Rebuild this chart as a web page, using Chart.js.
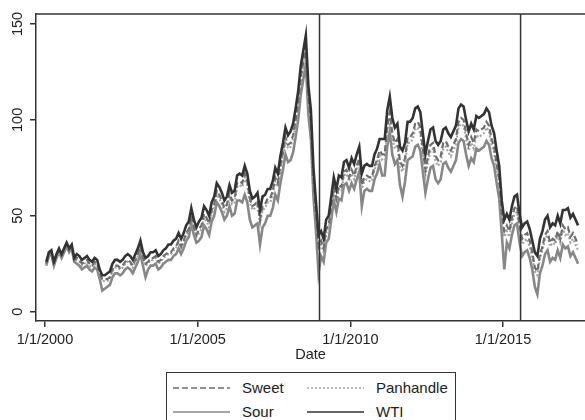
<!DOCTYPE html>
<html>
<head>
<meta charset="utf-8">
<script src="https://cdn.jsdelivr.net/npm/chart.js@4.4.1/dist/chart.umd.min.js"></script>
<style>
  html, body { margin: 0; padding: 0; background: #fff; }
  body { width: 585px; height: 420px; position: relative; overflow: hidden; font-family: "Liberation Sans", Arial, sans-serif; }
  #wrap { position: absolute; left: 0; top: 0; width: 585px; height: 368px; }
  #legend { position: absolute; left: 166px; top: 372px; width: 290px; height: 70px; border: 1px solid #333; box-sizing: border-box; }
  .item { position: absolute; height: 18px; width: 140px; }
  .item svg { position: absolute; left: 0; top: 0; }
  .item span { position: absolute; top: 0; font-size: 15px; line-height: 18px; color: #222; white-space: nowrap; }
</style>
</head>
<body>
<div id="wrap"><canvas id="chart"></canvas></div>
<div id="legend"></div>
<script>
// monthly prices, Jan 2000 - Jun 2017 ($/bbl)
const startYear = 2000;

const wti = [
  26, 31, 32, 26, 30, 33, 30, 33, 36, 33, 35, 28, // 2000
  30, 29, 27, 28, 29, 27, 26, 28, 27, 22, 19, 19, // 2001
  20, 21, 25, 27, 27, 26, 27, 29, 30, 29, 27, 30, // 2002
  33, 37, 31, 28, 29, 31, 31, 32, 29, 30, 32, 33, // 2003
  35, 35, 37, 38, 41, 38, 41, 45, 47, 54, 48, 44, // 2004
  47, 49, 55, 53, 50, 57, 60, 67, 65, 62, 58, 60, // 2005
  66, 62, 63, 71, 72, 71, 76, 72, 63, 59, 60, 62, // 2006
  53, 60, 61, 64, 64, 68, 75, 72, 81, 88, 96, 92, // 2007
  94, 98, 106, 115, 128, 136, 144, 118, 105, 75, 57, 40, // 2008
  42, 38, 48, 50, 60, 70, 64, 71, 70, 78, 79, 75, // 2009
  80, 77, 82, 86, 72, 76, 77, 76, 76, 82, 85, 90, // 2010
  90, 90, 105, 112, 101, 96, 98, 86, 84, 88, 99, 99, // 2011
  101, 106, 107, 104, 93, 82, 89, 95, 96, 89, 87, 89, // 2012
  95, 96, 93, 91, 94, 97, 106, 108, 107, 100, 94, 98, // 2013
  95, 102, 101, 102, 103, 106, 104, 97, 93, 84, 76, 58, // 2014
  48, 51, 48, 55, 60, 61, 51, 44, 46, 47, 43, 37, // 2015
  31, 29, 38, 42, 48, 50, 44, 46, 45, 50, 46, 53, // 2016
  53, 54, 49, 51, 48, 45 // 2017
];

const sweet = [
  25, 30, 31, 25, 29, 32, 29, 32, 35, 32, 34, 27,
  28, 27, 25, 26, 27, 25, 24, 26, 25, 20, 17, 17,
  17, 18, 22, 24, 24, 23, 24, 26, 27, 26, 24, 27,
  30, 34, 28, 25, 26, 28, 28, 29, 26, 27, 29, 30,
  31, 31, 33, 34, 37, 34, 37, 41, 43, 50, 44, 40,
  43, 45, 51, 49, 46, 53, 56, 63, 61, 58, 54, 56,
  62, 58, 59, 67, 68, 67, 72, 68, 59, 55, 56, 58,
  48, 55, 56, 59, 59, 63, 70, 67, 76, 83, 91, 87,
  88, 92, 100, 109, 122, 130, 138, 112, 99, 69, 51, 34,
  37, 33, 43, 45, 55, 65, 59, 66, 65, 73, 74, 70,
  74, 71, 76, 80, 66, 70, 71, 70, 70, 76, 79, 84,
  82, 82, 97, 104, 93, 88, 90, 78, 76, 80, 91, 91,
  93, 98, 99, 96, 85, 74, 81, 87, 88, 81, 79, 81,
  88, 89, 86, 84, 87, 90, 99, 101, 100, 93, 87, 91,
  88, 95, 94, 95, 96, 99, 97, 90, 86, 77, 69, 51,
  42, 45, 42, 49, 54, 55, 45, 38, 40, 41, 37, 31,
  23, 21, 30, 34, 40, 42, 36, 38, 37, 42, 38, 45,
  43, 44, 39, 41, 38, 35
];

const panhandle = [
  24.5, 29.5, 30.5, 24.5, 28.5, 31.5, 28.5, 31.5, 34.5, 31.5, 33.5, 26.5,
  27, 26, 24, 25, 26, 24, 23, 25, 24, 19, 16, 16,
  16, 17, 21, 23, 23, 22, 23, 25, 26, 25, 23, 26,
  29, 33, 27, 24, 25, 27, 27, 28, 25, 26, 28, 29,
  30, 30, 32, 33, 36, 33, 36, 40, 42, 49, 43, 39,
  41, 43, 49, 47, 44, 51, 54, 61, 59, 56, 52, 54,
  60, 56, 57, 65, 66, 65, 70, 66, 57, 53, 54, 56,
  46, 53, 54, 57, 57, 61, 68, 65, 74, 81, 89, 85,
  86, 90, 98, 107, 120, 128, 136, 110, 97, 67, 49, 32,
  35, 31, 41, 43, 53, 63, 57, 64, 63, 71, 72, 68,
  72, 69, 74, 78, 64, 68, 69, 68, 68, 74, 77, 82,
  79, 79, 94, 101, 90, 85, 87, 75, 73, 77, 88, 88,
  90, 95, 96, 93, 82, 71, 78, 84, 85, 78, 76, 78,
  85, 86, 83, 81, 84, 87, 96, 98, 97, 90, 84, 88,
  85, 92, 91, 92, 93, 96, 94, 87, 83, 74, 66, 48,
  39, 42, 39, 46, 51, 52, 42, 35, 37, 38, 34, 28,
  21, 19, 28, 32, 38, 40, 34, 36, 35, 40, 36, 43,
  40, 41, 36, 38, 35, 32
];

const sour = [
  24, 29, 30, 24, 28, 31, 28, 31, 34, 31, 33, 26,
  25, 24, 22, 23, 24, 22, 21, 23, 22, 17, 11, 12,
  13, 14, 18, 20, 20, 19, 20, 22, 23, 22, 20, 23,
  26, 30, 24, 18, 22, 24, 24, 25, 22, 23, 25, 26,
  27, 27, 29, 30, 33, 30, 33, 37, 39, 46, 40, 36,
  37, 39, 45, 43, 40, 47, 50, 57, 55, 52, 48, 50,
  55, 50, 51, 58, 58, 57, 61, 57, 48, 44, 45, 46,
  35, 44, 46, 50, 50, 54, 61, 58, 67, 74, 82, 78,
  79, 83, 91, 100, 113, 121, 129, 103, 90, 60, 42, 20,
  29, 26, 36, 38, 48, 58, 52, 59, 58, 66, 67, 63,
  67, 64, 69, 73, 55, 63, 64, 63, 63, 69, 72, 77,
  71, 71, 86, 94, 82, 77, 79, 66, 60, 68, 79, 80,
  81, 86, 87, 84, 73, 62, 69, 75, 76, 69, 67, 69,
  77, 78, 75, 73, 76, 79, 88, 90, 89, 82, 76, 80,
  78, 85, 84, 85, 86, 89, 87, 80, 76, 67, 59, 41,
  22, 36, 33, 40, 45, 46, 36, 29, 31, 32, 28, 22,
  13, 9, 20, 24, 30, 32, 26, 28, 27, 32, 28, 35,
  33, 34, 29, 31, 28, 25
];

const xTicks = [2000, 2005, 2010, 2015];
const yTicks = [0, 50, 100, 150];
const eventLines = [2008.99, 2015.575];

// legend order (row by row)
const legendNames = ["Sweet", "Panhandle", "Sour", "WTI"];

const styles = {
  Sweet: { color: "#6e6e6e", dash: [6, 3], width: 2.2, order: 2 },
  Panhandle: { color: "#a5a5a5", dash: [2, 2], width: 2.2, order: 3 },
  Sour: { color: "#878787", dash: [], width: 2.6, order: 4 },
  WTI: { color: "#333333", dash: [], width: 2.6, order: 1 },
};

const values = { Sweet: sweet, Panhandle: panhandle, Sour: sour, WTI: wti };

function toPoints(arr) {
  return arr.map((v, i) => ({ x: startYear + (i + 0.5) / 12, y: v }));
}

const datasets = legendNames.map((name) => ({
  label: name,
  data: toPoints(values[name]),
  borderColor: styles[name].color,
  borderDash: styles[name].dash,
  borderWidth: styles[name].width,
  order: styles[name].order,
  pointRadius: 0,
  tension: 0,
  fill: false,
}));

// top border and the two vertical markers
const framePlugin = {
  id: "frame",
  afterDatasetsDraw(chart) {
    const { ctx, chartArea: a, scales } = chart;
    ctx.save();
    ctx.strokeStyle = "#333";
    ctx.lineWidth = 1.5;
    ctx.beginPath();
    ctx.moveTo(a.left, a.top);
    ctx.lineTo(a.right + 2, a.top);
    eventLines.forEach((d) => {
      const px = scales.x.getPixelForValue(d);
      ctx.moveTo(px, a.top);
      ctx.lineTo(px, a.bottom);
    });
    ctx.stroke();
    ctx.restore();
  },
};

Chart.defaults.font.family = "'Liberation Sans', Arial, sans-serif";
Chart.defaults.color = "#222";

new Chart(document.getElementById("chart"), {
  type: "line",
  data: { datasets: datasets },
  options: {
    responsive: true,
    maintainAspectRatio: false,
    animation: false,
    layout: { padding: { top: 14, right: 0, left: 0, bottom: 0 } },
    plugins: {
      legend: { display: false },
      tooltip: { enabled: false },
    },
    scales: {
      x: {
        type: "linear",
        min: 1999.705,
        max: 2017.685,
        afterBuildTicks: (axis) => {
          axis.ticks = xTicks.map((v) => ({ value: v }));
        },
        afterFit: (axis) => {
          axis.height = 47;
        },
        border: { color: "#333", width: 1.5 },
        grid: { drawOnChartArea: false, drawTicks: true, tickLength: 6, color: "#333", lineWidth: 1.5 },
        ticks: {
          font: { size: 14.5 },
          padding: 4,
          maxRotation: 0,
          callback: (v) => "1/1/" + v,
        },
        title: {
          display: true,
          text: "Date",
          font: { size: 14.5 },
          padding: { top: 0, bottom: 4 },
        },
      },
      y: {
        min: -4.85,
        max: 155.2,
        afterBuildTicks: (axis) => {
          axis.ticks = yTicks.map((v) => ({ value: v }));
        },
        afterFit: (axis) => {
          axis.width = 36;
        },
        border: { color: "#333", width: 1.5 },
        grid: { drawOnChartArea: false, drawTicks: true, tickLength: 6, color: "#333", lineWidth: 1.5 },
        ticks: {
          font: { size: 14.5 },
          padding: 0,
          minRotation: 90,
          maxRotation: 90,
          crossAlign: "center",
        },
      },
    },
  },
  plugins: [framePlugin],
});

// legend box, two columns
const legend = document.getElementById("legend");
const colX = [6, 140];
const rowY = [6, 30];
legendNames.forEach((name, i) => {
  const s = styles[name];
  const item = document.createElement("div");
  item.className = "item";
  item.style.left = colX[i % 2] + "px";
  item.style.top = rowY[Math.floor(i / 2)] + "px";
  item.innerHTML =
    '<svg width="58" height="18"><line x1="0" y1="9" x2="57" y2="9" stroke="' + s.color +
    '" stroke-width="1.5" stroke-dasharray="' + (s.dash.length ? s.dash.join(",") : "none") + '"/></svg>';
  const label = document.createElement("span");
  label.style.left = "69px";
  label.textContent = name;
  item.appendChild(label);
  legend.appendChild(item);
});
</script>
</body>
</html>
